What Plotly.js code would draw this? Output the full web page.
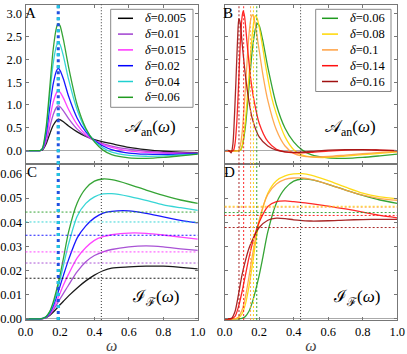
<!DOCTYPE html>
<html>
<head>
<meta charset="utf-8">
<script src="https://cdn.plot.ly/plotly-3.0.1.min.js"></script>
<style>
  html, body { margin: 0; padding: 0; background: #fff; }
  #chart { width: 407px; height: 354px; }
</style>
</head>
<body>
<div id="chart"></div>
<script>
// Panel A / C: small delta values
const deltasLow = ["0.005", "0.01", "0.015", "0.02", "0.04", "0.06"];
const colorsLow = ["#000000", "#a040d0", "#ff30ff", "#0000ff", "#20d0d0", "#1f9a1f"];

const omegaA = [0, 0.08, 0.09, 0.1, 0.12, 0.14, 0.16, 0.18, 0.19, 0.2, 0.22, 0.25, 0.3, 0.35, 0.4, 0.45, 0.5, 0.6, 0.7, 0.8, 0.9, 1.0];
const ampA_005 = [0, 0, 0.003, 0.02, 0.15, 0.36, 0.55, 0.66, 0.69, 0.68, 0.63, 0.54, 0.41, 0.31, 0.24, 0.19, 0.15, 0.07, 0.02, -0.015, -0.035, -0.045];
const ampA_01  = [0, 0, 0.004, 0.03, 0.2, 0.5, 0.78, 0.95, 0.98, 0.96, 0.87, 0.70, 0.47, 0.32, 0.22, 0.15, 0.1, 0.03, -0.015, -0.04, -0.052, -0.055];
const ampA_015 = [0, 0, 0.005, 0.04, 0.27, 0.68, 1.05, 1.27, 1.31, 1.28, 1.15, 0.9, 0.57, 0.35, 0.22, 0.13, 0.07, -0.005, -0.04, -0.058, -0.062, -0.06];
const ampA_02  = [0, 0, 0.006, 0.05, 0.36, 0.93, 1.45, 1.75, 1.80, 1.76, 1.57, 1.19, 0.71, 0.41, 0.22, 0.1, 0.02, -0.055, -0.08, -0.085, -0.077, -0.066];
const ampA_04  = [0, 0, 0.007, 0.06, 0.46, 1.2, 1.9, 2.3, 2.37, 2.33, 2.07, 1.56, 0.89, 0.46, 0.21, 0.06, -0.035, -0.105, -0.125, -0.117, -0.097, -0.076];
const ampA_06  = [0, 0, 0.008, 0.07, 0.52, 1.35, 2.2, 2.7, 2.78, 2.74, 2.43, 1.83, 1.0, 0.49, 0.19, 0.01, -0.09, -0.16, -0.17, -0.15, -0.115, -0.077];

const omegaC = [0, 0.08, 0.1, 0.12, 0.14, 0.16, 0.18, 0.2, 0.22, 0.25, 0.3, 0.35, 0.4, 0.45, 0.5, 0.6, 0.7, 0.8, 0.9, 1.0];
const intC_005 = [0, 0, 0.0001, 0.0005, 0.0014, 0.0027, 0.0042, 0.0058, 0.0073, 0.0095, 0.0128, 0.0157, 0.0181, 0.0199, 0.021, 0.0215, 0.0218, 0.0218, 0.0213, 0.0207];
const intC_01  = [0, 0, 0.0001, 0.0006, 0.0017, 0.0035, 0.0058, 0.0082, 0.0105, 0.014, 0.0195, 0.0236, 0.0262, 0.0277, 0.0287, 0.0298, 0.0302, 0.0298, 0.029, 0.0283];
const intC_015 = [0, 0, 0.0001, 0.0007, 0.002, 0.0043, 0.0072, 0.0105, 0.014, 0.0185, 0.0252, 0.0295, 0.0325, 0.034, 0.0348, 0.0355, 0.0354, 0.0347, 0.0338, 0.033];
const intC_02  = [0, 0, 0.0002, 0.0008, 0.0024, 0.0052, 0.009, 0.0135, 0.018, 0.0245, 0.0335, 0.0385, 0.0418, 0.0438, 0.0445, 0.0447, 0.0437, 0.0422, 0.0408, 0.0397];
const intC_04  = [0, 0, 0.0002, 0.0009, 0.0028, 0.006, 0.0105, 0.016, 0.022, 0.031, 0.0425, 0.0478, 0.0505, 0.0517, 0.0518, 0.0507, 0.049, 0.0472, 0.046, 0.0449];
const intC_06  = [0, 0, 0.0002, 0.001, 0.003, 0.0068, 0.012, 0.018, 0.025, 0.036, 0.048, 0.054, 0.057, 0.0579, 0.0576, 0.0557, 0.0533, 0.0511, 0.0492, 0.0478];
const levelsC = [0.0168, 0.0231, 0.0277, 0.0346, 0.0401, 0.0442];
const markAC = 0.19;

// Panel B / D: larger delta values
const deltasHigh = ["0.06", "0.08", "0.1", "0.14", "0.16"];
const colorsHigh = ["#1f9a1f", "#ffd700", "#ffa040", "#ff1010", "#a01010"];

const omegaB_08 = [0, 0.09, 0.1, 0.11, 0.12, 0.13, 0.14, 0.15, 0.16, 0.17, 0.178, 0.19, 0.21, 0.24, 0.27, 0.3, 0.35, 0.4, 0.45, 0.5, 0.6, 0.7, 0.8, 0.9, 1.0];
const ampB_08   = [0, 0, 0.08, 0.3, 0.65, 1.1, 1.6, 2.1, 2.55, 2.85, 2.96, 2.88, 2.5, 1.8, 1.2, 0.8, 0.3, 0.02, -0.1, -0.14, -0.15, -0.12, -0.09, -0.06, -0.03];
const omegaB_1  = [0, 0.08, 0.09, 0.1, 0.11, 0.12, 0.13, 0.14, 0.15, 0.159, 0.17, 0.19, 0.22, 0.25, 0.3, 0.35, 0.4, 0.45, 0.5, 0.6, 0.7, 0.8, 0.9, 1.0];
const ampB_1    = [0, 0, 0.1, 0.35, 0.8, 1.35, 1.95, 2.5, 2.85, 2.98, 2.9, 2.45, 1.7, 1.1, 0.45, 0.1, -0.06, -0.12, -0.14, -0.13, -0.1, -0.07, -0.04, -0.02];
const omegaB_14 = [0, 0.05, 0.06, 0.07, 0.08, 0.09, 0.1, 0.107, 0.115, 0.13, 0.15, 0.17, 0.2, 0.25, 0.3, 0.35, 0.4, 0.5, 0.6, 0.7, 0.8, 0.9, 1.0];
const ampB_14   = [0, 0, 0.15, 0.6, 1.4, 2.3, 2.9, 3.06, 2.95, 2.35, 1.6, 1.1, 0.6, 0.2, 0.03, -0.03, -0.05, -0.04, -0.01, 0.01, 0.02, 0.01, 0.0];
const omegaB_16 = [0, 0.025, 0.038, 0.048, 0.055, 0.065, 0.075, 0.082, 0.09, 0.1, 0.12, 0.14, 0.16, 0.2, 0.25, 0.3, 0.35, 0.4, 0.5, 0.6, 0.7, 0.8, 0.9, 1.0];
const ampB_16   = [0, 0, -0.05, 0.15, 0.6, 1.5, 2.45, 2.89, 2.8, 2.4, 1.65, 1.1, 0.7, 0.3, 0.1, 0.01, -0.03, -0.04, -0.02, 0.01, 0.02, 0.02, 0.01, 0.0];

const omegaD = [0, 0.04, 0.06, 0.08, 0.1, 0.12, 0.14, 0.16, 0.18, 0.2, 0.25, 0.3, 0.35, 0.4, 0.45, 0.5, 0.6, 0.7, 0.8, 0.9, 1.0];
const intD_08 = [0, 0, 0, 0.0003, 0.002, 0.006, 0.013, 0.022, 0.032, 0.040, 0.052, 0.0572, 0.0592, 0.06, 0.0601, 0.0595, 0.0572, 0.0545, 0.052, 0.0505, 0.0497];
const intD_1  = [0, 0, 0, 0.0008, 0.0035, 0.009, 0.017, 0.026, 0.034, 0.041, 0.0515, 0.0558, 0.0577, 0.0583, 0.0583, 0.0577, 0.0557, 0.0533, 0.0512, 0.0498, 0.049];
const intD_14 = [0, 0, 0.001, 0.005, 0.011, 0.018, 0.025, 0.031, 0.036, 0.040, 0.0465, 0.0485, 0.0488, 0.0485, 0.0481, 0.0477, 0.0467, 0.0455, 0.0442, 0.0428, 0.0418];
const intD_16 = [0, 0.0002, 0.003, 0.010, 0.018, 0.024, 0.029, 0.0325, 0.0355, 0.0378, 0.0408, 0.0417, 0.0415, 0.041, 0.0407, 0.0405, 0.0406, 0.0409, 0.0411, 0.0412, 0.0412];
const levelsD = [0.044, 0.0466, 0.0462, 0.0428, 0.0378];
const marksBD = [0.186, 0.167, 0.15, 0.11, 0.083];

const markDotted = 0.44;

const serif = "Liberation Serif, Times New Roman, serif";
const W = 407, H = 354;

const ampLow = [ampA_005, ampA_01, ampA_015, ampA_02, ampA_04, ampA_06];
const intLow = [intC_005, intC_01, intC_015, intC_02, intC_04, intC_06];
const omegaHighB = [omegaA, omegaB_08, omegaB_1, omegaB_14, omegaB_16];
const ampHigh = [ampA_06, ampB_08, ampB_1, ampB_14, ampB_16];
const omegaHighD = [omegaC, omegaD, omegaD, omegaD, omegaD];
const intHigh = [intC_06, intD_08, intD_1, intD_14, intD_16];

function line(x, y, color, xa, ya) {
    return {
        type: "scatter", mode: "lines", x: x, y: y,
        xaxis: xa, yaxis: ya, showlegend: false, hoverinfo: "skip",
        line: {color: color, width: 1.3, shape: "spline", smoothing: 0.7},
        opacity: 0.9
    };
}

const traces = [];
deltasLow.forEach((d, i) => {
    traces.push(line(omegaA, ampLow[i], colorsLow[i], "x", "y"));
    traces.push(line(omegaC, intLow[i], colorsLow[i], "x3", "y3"));
});
deltasHigh.forEach((d, i) => {
    traces.push(line(omegaHighB[i], ampHigh[i], colorsHigh[i], "x2", "y2"));
    traces.push(line(omegaHighD[i], intHigh[i], colorsHigh[i], "x4", "y4"));
});

const shapes = [];
const annotations = [];
function vline(xv, xa, ya, color, dash, width) {
    shapes.push({type: "line", xref: xa, yref: ya + " domain", x0: xv, x1: xv, y0: 0, y1: 1,
                 line: {color: color, dash: dash, width: width}});
}
function hline(yv, xa, ya, color) {
    shapes.push({type: "line", xref: xa + " domain", yref: ya, x0: 0, x1: 1, y0: yv, y1: yv,
                 line: {color: color, dash: "2px,2px", width: 0.9}});
}
levelsC.forEach((v, i) => hline(v, "x3", "y3", colorsLow[i]));
levelsD.forEach((v, i) => hline(v, "x4", "y4", colorsHigh[i]));
marksBD.forEach((v, i) => {
    vline(v, "x2", "y2", colorsHigh[i], "2px,2px", 0.9);
    vline(v, "x4", "y4", colorsHigh[i], "2px,2px", 0.9);
});
[["x", "y"], ["x3", "y3"]].forEach(([xa, ya]) => {
    vline(markAC, xa, ya, "#2050e0", "3px,3px", 3);
    vline(markAC, xa, ya, "#20c8e0", "3px,9px", 3);
});
[["x", "y"], ["x2", "y2"], ["x3", "y3"], ["x4", "y4"]].forEach(([xa, ya]) => {
    vline(markDotted, xa, ya, "#333", "1px,2px", 1);
});

// hand-made legends (plotly's own rows are too tall for this figure)
function legendBox(labels, colors, box) {
    const px = v => v / W, py = v => 1 - v / H;
    const bottom = box.row0 + (labels.length - 1) * box.step + 10;
    shapes.push({type: "rect", xref: "paper", yref: "paper",
                 x0: px(box.left), x1: px(box.right), y0: py(box.top), y1: py(bottom),
                 fillcolor: "#fff", line: {color: "#888", width: 1}, layer: "above"});
    labels.forEach((lab, i) => {
        const yy = py(box.row0 + i * box.step);
        shapes.push({type: "line", xref: "paper", yref: "paper", layer: "above",
                     x0: px(box.s0), x1: px(box.s1), y0: yy, y1: yy,
                     line: {color: colors[i], width: 1.5}});
        annotations.push({text: "<i>δ</i>=" + lab, xref: "paper", yref: "paper",
                          x: px(box.tx), y: yy, xanchor: "left", yanchor: "middle",
                          showarrow: false, font: {family: serif, size: 12.5, color: "#000"}});
    });
}
legendBox(deltasLow, colorsLow, {left: 110.7, right: 193, top: 9.3, row0: 18.3, step: 15.8, s0: 118, s1: 133, tx: 143});
legendBox(deltasHigh, colorsHigh, {left: 315.7, right: 391, top: 9.3, row0: 18.3, step: 15.8, s0: 322, s1: 338, tx: 348});

const axisBase = {
    showline: true, linecolor: "#777", linewidth: 1, mirror: "ticks",
    ticks: "inside", ticklen: 3, tickcolor: "#777", showgrid: false, zeroline: false,
    tickfont: {family: serif, size: 12.5, color: "#000"}
};
const domL = [0.0627, 0.486], domR = [0.552, 0.976];
const domTop = [0.536, 0.987], domBot = [0.096, 0.536];
const rangeA = [-0.3, 3.2], rangeC = [-0.0005, 0.064];
const yTopBase = Object.assign({}, axisBase, {range: rangeA, dtick: 0.5, tick0: 0, tickformat: ".1f",
    zeroline: true, zerolinecolor: "#aaa", zerolinewidth: 1});
const yBotBase = Object.assign({}, axisBase, {range: rangeC, dtick: 0.01, tick0: 0, tickformat: ".2f",
    zeroline: true, zerolinecolor: "#aaa", zerolinewidth: 1});
const xBase = Object.assign({}, axisBase, {range: [0, 1], dtick: 0.2, tick0: 0, tickformat: ".1f"});
const xTitle = {text: "<i>ω</i>", font: {family: serif, size: 16}, standoff: 2};

function note(text, x, y, size) {
    return {text: text, xref: "paper", yref: "paper", x: x, y: y, showarrow: false,
            xanchor: "center", yanchor: "middle", font: {family: serif, size: size, color: "#000"}};
}
annotations.push(
    note("A", 0.074, 0.963, 15),
    note("B", 0.561, 0.963, 15),
    note("C", 0.079, 0.513, 15),
    note("D", 0.565, 0.513, 15),
    note("𝒜<sub>an</sub>(<i>ω</i>)", 0.369, 0.638, 17),
    note("𝒜<sub>an</sub>(<i>ω</i>)", 0.860, 0.638, 17),
    note("ℐ<sub>ℱ</sub>(<i>ω</i>)", 0.383, 0.158, 17),
    note("ℐ<sub>ℱ</sub>(<i>ω</i>)", 0.875, 0.158, 17)
);

const layout = {
    width: W, height: H,
    margin: {l: 0, r: 0, t: 0, b: 0},
    paper_bgcolor: "#fff", plot_bgcolor: "#fff",
    showlegend: false,
    xaxis:  Object.assign({}, xBase, {domain: domL, anchor: "y", showticklabels: false}),
    yaxis:  Object.assign({}, yTopBase, {domain: domTop, anchor: "x"}),
    xaxis2: Object.assign({}, xBase, {domain: domR, anchor: "y2", showticklabels: false}),
    yaxis2: Object.assign({}, yTopBase, {domain: domTop, anchor: "x2", showticklabels: false}),
    xaxis3: Object.assign({}, xBase, {domain: domL, anchor: "y3", title: xTitle}),
    yaxis3: Object.assign({}, yBotBase, {domain: domBot, anchor: "x3"}),
    xaxis4: Object.assign({}, xBase, {domain: domR, anchor: "y4", title: xTitle}),
    yaxis4: Object.assign({}, yBotBase, {domain: domBot, anchor: "x4", showticklabels: false}),
    shapes: shapes,
    annotations: annotations
};

Plotly.newPlot("chart", traces, layout, {staticPlot: true, displayModeBar: false});
</script>
</body>
</html>
